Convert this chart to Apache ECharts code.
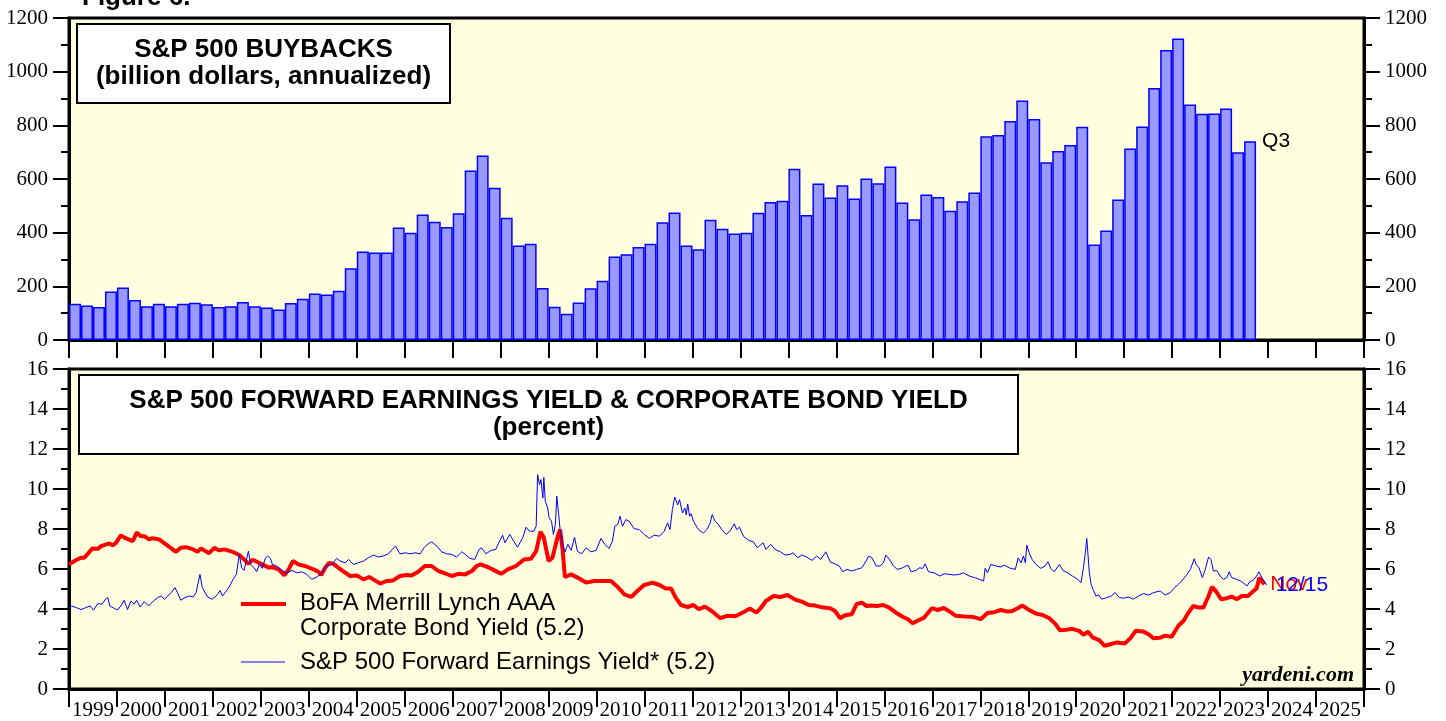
<!DOCTYPE html>
<html>
<head>
<meta charset="utf-8">
<script src="https://cdn.jsdelivr.net/npm/echarts@6/dist/echarts.min.js"></script>
<style>
  html, body { margin: 0; padding: 0; background: #fff; }
  #chart { width: 1446px; height: 721px; }
</style>
</head>
<body>
<div id="chart"></div>
<script>
// tick labels
const yearLabels = ['1999', '2000', '2001', '2002', '2003', '2004', '2005', '2006', '2007', '2008',
  '2009', '2010', '2011', '2012', '2013', '2014', '2015', '2016', '2017', '2018',
  '2019', '2020', '2021', '2022', '2023', '2024', '2025'];
const quarterNames = ['Q1', 'Q2', 'Q3', 'Q4'];

// S&P 500 buybacks, billion dollars annualized, quarterly from 1999 Q1
const buybacks = [
  135, 129, 123, 181,
  196, 149, 126, 135,
  126, 135, 139, 133,
  123, 126, 142, 126,
  121, 114, 138, 154,
  173, 170, 184, 267,
  330, 326, 326, 419,
  400, 468, 441, 421,
  472, 632, 688, 567,
  456, 352, 359, 194,
  124, 98, 140, 193,
  221, 311, 320, 347,
  359, 439, 475, 352,
  338, 448, 415, 397,
  400, 474, 514, 519,
  638, 466, 583, 531,
  577, 527, 602, 584,
  647, 512, 450, 542,
  533, 482, 517, 550,
  759, 764, 816, 893,
  824, 662, 704, 727,
  795, 356, 408, 524,
  714, 796, 939, 1081,
  1124, 878, 843, 844,
  863, 700, 741
];
const lastQuarter = 'Q3';

// BofA Merrill Lynch AAA corporate bond yield (percent), decimal year
const bondYears = [
  1999.00, 1999.15, 1999.25, 1999.32, 1999.49, 1999.60, 1999.67, 1999.84, 1999.91, 1999.98,
  2000.08, 2000.19, 2000.33, 2000.41, 2000.50, 2000.57, 2000.67, 2000.74, 2000.88, 2001.02,
  2001.12, 2001.23, 2001.33, 2001.44, 2001.58, 2001.68, 2001.75, 2001.92, 2002.03, 2002.13,
  2002.24, 2002.41, 2002.55, 2002.65, 2002.74, 2002.83, 2002.97, 2003.07, 2003.17, 2003.23,
  2003.37, 2003.49, 2003.58, 2003.67, 2003.78, 2003.92, 2004.10, 2004.20, 2004.26, 2004.34,
  2004.42, 2004.51, 2004.69, 2004.86, 2005.00, 2005.14, 2005.26, 2005.38, 2005.49, 2005.62,
  2005.76, 2005.90, 2006.04, 2006.14, 2006.28, 2006.42, 2006.56, 2006.70, 2006.84, 2006.98,
  2007.12, 2007.26, 2007.40, 2007.50, 2007.58, 2007.73, 2007.87, 2008.01, 2008.15, 2008.32,
  2008.49, 2008.63, 2008.74, 2008.83, 2008.90, 2009.00, 2009.08, 2009.19, 2009.24, 2009.29,
  2009.34, 2009.47, 2009.60, 2009.78, 2009.95, 2010.12, 2010.30, 2010.44, 2010.58, 2010.72,
  2010.85, 2010.99, 2011.17, 2011.31, 2011.44, 2011.55, 2011.65, 2011.76, 2011.90, 2012.02,
  2012.13, 2012.26, 2012.40, 2012.58, 2012.72, 2012.89, 2013.06, 2013.20, 2013.33, 2013.42,
  2013.53, 2013.69, 2013.83, 2013.98, 2014.14, 2014.28, 2014.42, 2014.56, 2014.73, 2014.87,
  2014.97, 2015.08, 2015.18, 2015.32, 2015.42, 2015.53, 2015.63, 2015.74, 2015.84, 2015.98,
  2016.10, 2016.24, 2016.38, 2016.49, 2016.59, 2016.69, 2016.83, 2016.99, 2017.11, 2017.24,
  2017.35, 2017.49, 2017.67, 2017.84, 2018.01, 2018.15, 2018.29, 2018.43, 2018.57, 2018.67,
  2018.78, 2018.88, 2018.99, 2019.16, 2019.30, 2019.44, 2019.56, 2019.66, 2019.79, 2019.92,
  2020.06, 2020.15, 2020.25, 2020.34, 2020.48, 2020.59, 2020.71, 2020.85, 2021.01, 2021.13,
  2021.24, 2021.40, 2021.51, 2021.61, 2021.75, 2021.85, 2021.99, 2022.13, 2022.24, 2022.34,
  2022.44, 2022.55, 2022.65, 2022.76, 2022.83, 2022.91, 2023.02, 2023.14, 2023.24, 2023.35,
  2023.45, 2023.58, 2023.66, 2023.76, 2023.82, 2023.87, 2023.92
];
const bondYield = [
  6.23, 6.45, 6.56, 6.56, 7.03, 7.01, 7.14, 7.28, 7.18, 7.31,
  7.68, 7.53, 7.39, 7.82, 7.64, 7.64, 7.48, 7.54, 7.48, 7.23,
  7.06, 6.86, 7.06, 7.09, 6.99, 6.86, 7.03, 6.79, 7.06, 6.93,
  6.98, 6.86, 6.70, 6.48, 6.26, 6.46, 6.30, 6.18, 6.06, 6.10,
  5.98, 5.68, 5.98, 6.40, 6.23, 6.15, 5.98, 5.86, 5.70, 6.06,
  6.30, 6.26, 5.93, 5.65, 5.68, 5.48, 5.60, 5.43, 5.27, 5.40,
  5.43, 5.65, 5.70, 5.67, 5.86, 6.15, 6.15, 5.90, 5.78, 5.65,
  5.76, 5.73, 5.90, 6.15, 6.23, 6.10, 5.93, 5.76, 5.98, 6.15,
  6.48, 6.51, 6.89, 7.86, 7.56, 6.40, 6.56, 7.64, 7.97, 6.98,
  5.60, 5.73, 5.57, 5.32, 5.40, 5.40, 5.40, 5.10, 4.73, 4.60,
  4.90, 5.20, 5.32, 5.20, 5.03, 5.03, 4.57, 4.20, 4.10, 4.20,
  3.99, 4.12, 3.90, 3.54, 3.66, 3.64, 3.84, 4.02, 3.82, 4.04,
  4.40, 4.65, 4.60, 4.70, 4.47, 4.37, 4.20, 4.17, 4.07, 4.04,
  3.90, 3.54, 3.69, 3.74, 4.24, 4.32, 4.15, 4.17, 4.15, 4.20,
  4.07, 3.82, 3.61, 3.49, 3.29, 3.41, 3.57, 4.04, 3.95, 4.05,
  3.89, 3.66, 3.62, 3.61, 3.49, 3.80, 3.84, 3.95, 3.87, 3.90,
  4.04, 4.17, 3.99, 3.77, 3.70, 3.54, 3.27, 2.94, 2.96, 3.01,
  2.91, 2.71, 2.86, 2.58, 2.44, 2.16, 2.24, 2.33, 2.28, 2.54,
  2.91, 2.87, 2.74, 2.54, 2.56, 2.67, 2.61, 3.16, 3.41, 3.82,
  4.15, 4.07, 4.07, 4.65, 5.10, 4.90, 4.49, 4.54, 4.62, 4.49,
  4.65, 4.65, 4.82, 5.03, 5.57, 5.40, 5.23
];

// S&P 500 forward earnings yield (percent), decimal year
const eyYears = [
  1999.00, 1999.06, 1999.15, 1999.25, 1999.35, 1999.44, 1999.51, 1999.60, 1999.69, 1999.76,
  1999.81, 1999.85, 1999.94, 2000.01, 2000.08, 2000.15, 2000.22, 2000.29, 2000.36, 2000.41,
  2000.48, 2000.57, 2000.66, 2000.76, 2000.85, 2000.92, 2000.99, 2001.06, 2001.13, 2001.21,
  2001.26, 2001.33, 2001.42, 2001.51, 2001.59, 2001.65, 2001.73, 2001.78, 2001.89, 2001.99,
  2002.10, 2002.15, 2002.20, 2002.28, 2002.35, 2002.42, 2002.49, 2002.55, 2002.60, 2002.65,
  2002.74, 2002.79, 2002.86, 2002.91, 2002.97, 2003.03, 2003.09, 2003.14, 2003.20, 2003.24,
  2003.33, 2003.44, 2003.54, 2003.65, 2003.75, 2003.85, 2003.96, 2004.06, 2004.17, 2004.27,
  2004.37, 2004.48, 2004.58, 2004.65, 2004.76, 2004.83, 2004.93, 2005.03, 2005.14, 2005.24,
  2005.35, 2005.45, 2005.55, 2005.66, 2005.74, 2005.81, 2005.90, 2006.01, 2006.11, 2006.22,
  2006.32, 2006.41, 2006.49, 2006.56, 2006.67, 2006.77, 2006.87, 2006.98, 2007.08, 2007.19,
  2007.26, 2007.36, 2007.46, 2007.55, 2007.60, 2007.69, 2007.80, 2007.90, 2007.95, 2008.04,
  2008.09, 2008.19, 2008.28, 2008.35, 2008.46, 2008.53, 2008.60, 2008.69, 2008.74, 2008.77,
  2008.81, 2008.84, 2008.88, 2008.90, 2008.93, 2008.98, 2009.01, 2009.06, 2009.10, 2009.14,
  2009.17, 2009.21, 2009.24, 2009.29, 2009.34, 2009.40, 2009.47, 2009.54, 2009.60, 2009.69,
  2009.78, 2009.88, 2009.99, 2010.09, 2010.17, 2010.26, 2010.33, 2010.38, 2010.44, 2010.49,
  2010.54, 2010.61, 2010.68, 2010.78, 2010.89, 2010.99, 2011.10, 2011.20, 2011.31, 2011.41,
  2011.48, 2011.53, 2011.58, 2011.63, 2011.69, 2011.73, 2011.79, 2011.84, 2011.87, 2011.90,
  2011.94, 2011.97, 2012.02, 2012.09, 2012.16, 2012.23, 2012.30, 2012.37, 2012.41, 2012.47,
  2012.54, 2012.61, 2012.70, 2012.78, 2012.87, 2012.92, 2012.98, 2013.06, 2013.17, 2013.27,
  2013.35, 2013.47, 2013.53, 2013.63, 2013.72, 2013.83, 2013.93, 2014.03, 2014.10, 2014.19,
  2014.28, 2014.38, 2014.49, 2014.59, 2014.67, 2014.78, 2014.87, 2014.97, 2015.06, 2015.13,
  2015.22, 2015.32, 2015.42, 2015.53, 2015.62, 2015.67, 2015.74, 2015.83, 2015.91, 2015.98,
  2016.03, 2016.10, 2016.19, 2016.27, 2016.38, 2016.49, 2016.56, 2016.66, 2016.73, 2016.80,
  2016.85, 2016.92, 2017.04, 2017.15, 2017.25, 2017.35, 2017.46, 2017.56, 2017.65, 2017.77,
  2017.88, 2017.98, 2018.07, 2018.10, 2018.15, 2018.22, 2018.33, 2018.43, 2018.50, 2018.60,
  2018.73, 2018.79, 2018.85, 2018.90, 2018.94, 2018.97, 2019.02, 2019.08, 2019.16, 2019.26,
  2019.35, 2019.41, 2019.47, 2019.54, 2019.65, 2019.72, 2019.82, 2019.92, 2020.03, 2020.10,
  2020.15, 2020.19, 2020.22, 2020.24, 2020.27, 2020.31, 2020.36, 2020.41, 2020.47, 2020.53,
  2020.64, 2020.73, 2020.81, 2020.90, 2020.99, 2021.09, 2021.19, 2021.30, 2021.40, 2021.51,
  2021.61, 2021.75, 2021.85, 2021.96, 2022.05, 2022.13, 2022.20, 2022.31, 2022.38, 2022.42,
  2022.46, 2022.50, 2022.56, 2022.63, 2022.69, 2022.76, 2022.81, 2022.86, 2022.93, 2023.00,
  2023.07, 2023.14, 2023.19, 2023.24, 2023.35, 2023.45, 2023.56, 2023.62, 2023.69, 2023.76,
  2023.81, 2023.87, 2023.94, 2023.97
];
const eyYield = [
  4.07, 4.15, 4.07, 3.97, 4.07, 4.15, 3.94, 4.27, 4.24, 4.49,
  4.57, 4.15, 4.04, 3.95, 4.15, 4.44, 3.97, 4.40, 4.24, 4.44,
  4.10, 4.37, 4.15, 4.40, 4.57, 4.65, 4.49, 4.65, 4.82, 5.07,
  4.82, 4.44, 4.57, 4.65, 4.60, 4.82, 5.73, 5.07, 4.60, 4.49,
  4.73, 4.93, 4.65, 4.90, 5.15, 5.48, 5.73, 6.73, 6.06, 5.93,
  6.89, 6.23, 6.06, 5.86, 6.23, 6.03, 6.53, 6.65, 6.53, 6.23,
  6.15, 5.93, 5.81, 5.93, 5.81, 5.86, 5.73, 5.48, 5.60, 5.81,
  6.15, 6.23, 6.53, 6.40, 6.31, 6.48, 6.23, 6.31, 6.40, 6.56,
  6.70, 6.60, 6.65, 6.76, 6.98, 7.14, 6.76, 6.81, 6.76, 6.81,
  6.76, 7.09, 7.26, 7.36, 7.14, 6.86, 6.76, 6.73, 6.60, 6.86,
  6.73, 6.53, 6.48, 6.98, 7.06, 6.76, 6.93, 6.98, 7.26, 7.69,
  7.31, 7.73, 7.36, 7.09, 7.56, 8.09, 7.89, 7.89, 8.14, 10.72,
  10.22, 10.47, 9.55, 10.58, 9.39, 9.05, 8.56, 8.39, 7.73, 8.22,
  9.64, 8.72, 7.93, 7.23, 6.86, 7.23, 6.93, 7.59, 6.89, 6.76,
  7.06, 6.86, 6.93, 7.53, 7.23, 7.03, 7.39, 8.14, 8.22, 8.64,
  8.14, 8.47, 8.39, 8.02, 7.97, 7.73, 7.53, 7.69, 7.64, 7.89,
  8.31, 7.97, 8.97, 9.60, 9.20, 9.47, 8.80, 9.05, 8.70, 9.25,
  8.64, 8.76, 8.39, 8.09, 7.89, 7.81, 7.97, 8.31, 8.72, 8.39,
  8.22, 7.97, 7.73, 7.89, 8.26, 7.97, 8.09, 7.64, 7.43, 7.36,
  7.06, 7.31, 6.98, 7.23, 6.98, 6.86, 6.70, 6.73, 6.81, 6.56,
  6.70, 6.60, 6.43, 6.65, 6.48, 6.86, 6.36, 6.26, 6.15, 5.86,
  5.98, 5.90, 5.98, 6.06, 6.40, 6.65, 6.56, 6.15, 6.15, 6.31,
  6.70, 6.50, 6.15, 5.98, 6.06, 6.20, 5.86, 5.93, 6.06, 6.03,
  6.26, 5.86, 5.81, 5.65, 5.76, 5.73, 5.70, 5.73, 5.81, 5.65,
  5.57, 5.48, 5.40, 6.03, 5.81, 6.23, 6.15, 6.10, 6.20, 6.06,
  5.98, 6.56, 6.31, 6.65, 6.31, 7.19, 6.81, 6.48, 6.23, 6.03,
  6.15, 6.36, 6.03, 5.86, 6.23, 5.93, 5.81, 5.65, 5.48, 5.32,
  6.06, 6.81, 7.53, 6.89, 5.90, 5.23, 4.93, 4.65, 4.70, 4.49,
  4.57, 4.65, 4.82, 4.57, 4.54, 4.60, 4.49, 4.65, 4.77, 4.70,
  4.82, 4.90, 4.70, 4.82, 5.07, 5.23, 5.40, 5.73, 5.98, 5.90,
  6.51, 6.23, 6.06, 5.57, 5.98, 6.60, 6.48, 5.90, 5.93, 5.65,
  5.48, 5.57, 5.86, 5.57, 5.48, 5.37, 5.15, 5.37, 5.43, 5.65,
  5.86, 5.57, 5.32, 5.20
];
const bondEndLabel = 'Nov';
const eyEndLabel = '12/15';

const quarterCats = [];
yearLabels.forEach(y => quarterNames.forEach(q => quarterCats.push(y + q)));
const bondData = bondYears.map((t, i) => [t, bondYield[i]]);
const eyData = eyYears.map((t, i) => [t, eyYield[i]]);

const serif = 'Liberation Serif';
const sans = 'Liberation Sans';
const bg = '#FFFFE0';

function yAxisCfg(grid, pos, max, step) {
  return {
    gridIndex: grid,
    type: 'value',
    position: pos,
    min: 0,
    max: max,
    interval: step,
    axisLine: { show: true, lineStyle: { color: '#000', width: 3 } },
    axisTick: { show: true, length: 16, lineStyle: { color: '#000', width: 2 } },
    minorTick: { show: true, splitNumber: 2, length: 8, lineStyle: { color: '#000', width: 2 } },
    axisLabel: { margin: 21, fontFamily: serif, fontSize: 21, color: '#000', formatter: v => String(v) },
    splitLine: { show: false }
  };
}

function yearAxisCfg(grid, showLabels) {
  return {
    gridIndex: grid,
    type: 'category',
    data: yearLabels,
    boundaryGap: true,
    position: 'bottom',
    axisLine: { show: true, lineStyle: { color: '#000', width: 3 } },
    axisTick: { show: true, interval: 0, length: 18, lineStyle: { color: '#000', width: 2 } },
    axisLabel: { show: showLabels, interval: 0, margin: 11, fontFamily: serif, fontSize: 21, color: '#000' },
    splitLine: { show: false }
  };
}

let chart = echarts.init(document.getElementById('chart'), null, { renderer: 'canvas' });

let option = {
  animation: false,
  backgroundColor: '#fff',
  grid: [
    { left: 69, right: 82, top: 18, height: 322, show: true, backgroundColor: bg, borderColor: '#000', borderWidth: 3 },
    { left: 69, right: 82, top: 369, height: 321, show: true, backgroundColor: bg, borderColor: '#000', borderWidth: 3 }
  ],
  xAxis: [
    yearAxisCfg(0, false),
    { gridIndex: 0, type: 'category', data: quarterCats, boundaryGap: true, show: false },
    yearAxisCfg(1, true),
    { gridIndex: 1, type: 'value', min: 1999, max: 2026, show: false }
  ],
  yAxis: [
    yAxisCfg(0, 'left', 1200, 200),
    yAxisCfg(0, 'right', 1200, 200),
    yAxisCfg(1, 'left', 16, 2),
    yAxisCfg(1, 'right', 16, 2)
  ],
  series: [
    {
      name: 'S&P 500 Buybacks',
      type: 'bar',
      xAxisIndex: 1,
      yAxisIndex: 0,
      data: buybacks,
      barCategoryGap: '0%',
      itemStyle: { color: '#9999FF', borderColor: '#0000FF', borderWidth: 1.5 },
      label: {
        show: true,
        position: [18, 0],
        align: 'left',
        verticalAlign: 'middle',
        fontFamily: sans,
        fontSize: 21,
        color: '#000',
        formatter: p => (p.dataIndex === buybacks.length - 1 ? lastQuarter : '')
      }
    },
    {
      name: 'BoFA Merrill Lynch AAA Corporate Bond Yield',
      type: 'line',
      xAxisIndex: 3,
      yAxisIndex: 2,
      data: bondData,
      symbol: 'none',
      lineStyle: { color: '#FF0000', width: 4 },
      endLabel: { show: true, formatter: bondEndLabel, distance: 6, color: '#FF0000', fontFamily: sans, fontSize: 21 }
    },
    {
      name: 'S&P 500 Forward Earnings Yield',
      type: 'line',
      xAxisIndex: 3,
      yAxisIndex: 2,
      data: eyData,
      symbol: 'none',
      lineStyle: { color: '#0000FF', width: 1 },
      endLabel: { show: true, formatter: eyEndLabel, distance: 9, color: '#0000FF', fontFamily: sans, fontSize: 21 }
    }
  ],
  graphic: [
    { type: 'text', left: 82, top: -15, style: { text: 'Figure 6.', font: 'bold 26px "Liberation Sans"', fill: '#000' } },
    { type: 'rect', shape: { x: 77, y: 24, width: 373, height: 79 }, style: { fill: '#fff', stroke: '#000', lineWidth: 2 }, z: 10 },
    { type: 'text', x: 263.5, y: 50, z: 11, style: { text: 'S&P 500 BUYBACKS', font: 'bold 26px "Liberation Sans"', fill: '#000', align: 'center', verticalAlign: 'middle' } },
    { type: 'text', x: 263.5, y: 77, z: 11, style: { text: '(billion dollars, annualized)', font: 'bold 26px "Liberation Sans"', fill: '#000', align: 'center', verticalAlign: 'middle' } },
    { type: 'rect', shape: { x: 79, y: 375, width: 939, height: 79 }, style: { fill: '#fff', stroke: '#000', lineWidth: 2 }, z: 10 },
    { type: 'text', x: 548.5, y: 401, z: 11, style: { text: 'S&P 500 FORWARD EARNINGS YIELD & CORPORATE BOND YIELD', font: 'bold 26px "Liberation Sans"', fill: '#000', align: 'center', verticalAlign: 'middle' } },
    { type: 'text', x: 548.5, y: 428, z: 11, style: { text: '(percent)', font: 'bold 26px "Liberation Sans"', fill: '#000', align: 'center', verticalAlign: 'middle' } },
    // legend
    { type: 'line', shape: { x1: 241, y1: 604, x2: 286, y2: 604 }, style: { stroke: '#FF0000', lineWidth: 4 }, z: 10 },
    { type: 'text', x: 300, y: 603, z: 10, style: { text: 'BoFA Merrill Lynch AAA', font: '24px "Liberation Sans"', fill: '#000', verticalAlign: 'middle' } },
    { type: 'text', x: 300, y: 628, z: 10, style: { text: 'Corporate Bond Yield (5.2)', font: '24px "Liberation Sans"', fill: '#000', verticalAlign: 'middle' } },
    { type: 'line', shape: { x1: 241, y1: 662, x2: 285, y2: 662 }, style: { stroke: '#0000FF', lineWidth: 1 }, z: 10 },
    { type: 'text', x: 300, y: 662, z: 10, style: { text: 'S&P 500 Forward Earnings Yield* (5.2)', font: '24px "Liberation Sans"', fill: '#000', verticalAlign: 'middle' } },
    { type: 'text', x: 1354, y: 675, z: 10, style: { text: 'yardeni.com', font: 'italic bold 22px "Liberation Serif"', fill: '#000', align: 'right', verticalAlign: 'middle' } }
  ]
};

chart.setOption(option);
</script>
</body>
</html>
